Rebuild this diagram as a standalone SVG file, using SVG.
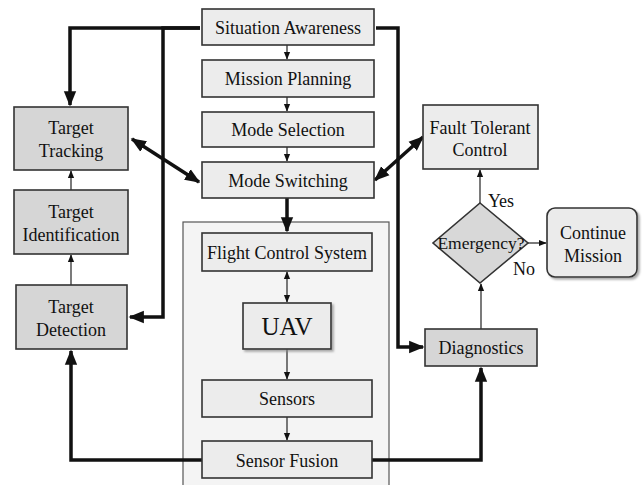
<svg xmlns="http://www.w3.org/2000/svg" width="642" height="485" viewBox="0 0 642 485">
<defs>
<marker id="ab" viewBox="0 0 10 10" refX="9" refY="5" markerWidth="4.4" markerHeight="4.4" orient="auto-start-reverse" markerUnits="strokeWidth"><path d="M0,1 L10,5 L0,9 z" fill="#111"/></marker>
<marker id="at" viewBox="0 0 10 10" refX="9" refY="5" markerWidth="6.5" markerHeight="6.5" orient="auto-start-reverse" markerUnits="strokeWidth"><path d="M0,1 L10,5 L0,9 z" fill="#111"/></marker>
<filter id="sh" x="-10%" y="-10%" width="130%" height="130%"><feDropShadow dx="2" dy="2" stdDeviation="1.2" flood-color="#888" flood-opacity="0.7"/></filter>
</defs>
<style>
.lt{fill:#ececec;stroke:#333;stroke-width:1.6}
.dk{fill:#d6d6d6;stroke:#333;stroke-width:1.6}
.bold{fill:none;stroke:#111;stroke-width:3.5;marker-end:url(#ab)}
.thin{fill:none;stroke:#222;stroke-width:1.2;marker-end:url(#at)}
.dbl{marker-start:url(#ab)}
</style>
<rect width="642" height="485" fill="#fff"/>
<g id="uav-container"><rect x="183" y="222" width="206" height="270" fill="#f4f4f4" stroke="#555" stroke-width="1.2"/></g>
<g id="connectors">
<path class="bold" d="M200,28 H70 V105"/>
<path class="bold" d="M200,28 H163 V317 H130"/>
<path class="bold" d="M376,28 H398 V347 H423"/>
<path class="bold" d="M202,460 H71 V351"/>
<path class="bold" d="M372,460 H481 V368"/>
<path class="bold" d="M287,198 V231"/>
<path class="bold dbl" d="M132,139 L199,182"/>
<path class="bold dbl" d="M375,180 L423,137"/>
<path class="thin" d="M287,45 V59"/>
<path class="thin" d="M287,97 V111"/>
<path class="thin" d="M287,147 V161"/>
<path class="thin" d="M287,272 V302" style="marker-start:url(#at)"/>
<path class="thin" d="M287,349 V379"/>
<path class="thin" d="M287,417 V440"/>
<path class="thin" d="M71,190 V171"/>
<path class="thin" d="M71,285 V255"/>
<path class="thin" d="M480,203 V170"/>
<path class="thin" d="M481,329 V284"/>
<path class="thin" d="M528,243 H546"/>
</g>
<g id="situation-awareness"><rect class="lt" x="202" y="9" width="172" height="36"/><text x="288" y="34" font-family="Liberation Serif" font-size="18" fill="#111" text-anchor="middle">Situation Awareness</text></g>
<g id="mission-planning"><rect class="lt" x="202" y="60" width="172" height="37"/><text x="288" y="85" font-family="Liberation Serif" font-size="18" fill="#111" text-anchor="middle">Mission Planning</text></g>
<g id="mode-selection"><rect class="lt" x="202" y="112" width="172" height="35"/><text x="288" y="136" font-family="Liberation Serif" font-size="18" fill="#111" text-anchor="middle">Mode Selection</text></g>
<g id="mode-switching"><rect class="lt" x="202" y="162" width="172" height="36"/><text x="288" y="187" font-family="Liberation Serif" font-size="18" fill="#111" text-anchor="middle">Mode Switching</text></g>
<g id="flight-control-system"><rect class="lt" x="202" y="233" width="170" height="38"/><text x="287" y="259" font-family="Liberation Serif" font-size="18" fill="#111" text-anchor="middle">Flight Control System</text></g>
<g id="uav"><rect class="lt" x="243" y="303" width="88" height="46" filter="url(#sh)"/><text x="287" y="335" font-family="Liberation Serif" font-size="25" fill="#111" text-anchor="middle">UAV</text></g>
<g id="sensors"><rect class="lt" x="202" y="380" width="170" height="37"/><text x="287" y="405" font-family="Liberation Serif" font-size="18" fill="#111" text-anchor="middle">Sensors</text></g>
<g id="sensor-fusion"><rect class="lt" x="202" y="441" width="170" height="37"/><text x="287" y="467" font-family="Liberation Serif" font-size="18" fill="#111" text-anchor="middle">Sensor Fusion</text></g>
<g id="target-tracking"><rect class="dk" x="14" y="107" width="114" height="63"/><text x="71" y="134" font-family="Liberation Serif" font-size="18" fill="#111" text-anchor="middle">Target</text><text x="71" y="157" font-family="Liberation Serif" font-size="18" fill="#111" text-anchor="middle">Tracking</text></g>
<g id="target-identification"><rect class="dk" x="14" y="190" width="114" height="64"/><text x="71" y="218" font-family="Liberation Serif" font-size="18" fill="#111" text-anchor="middle">Target</text><text x="71" y="241" font-family="Liberation Serif" font-size="18" fill="#111" text-anchor="middle">Identification</text></g>
<g id="target-detection"><rect class="dk" x="16" y="285" width="111" height="64"/><text x="71" y="313" font-family="Liberation Serif" font-size="18" fill="#111" text-anchor="middle">Target</text><text x="71" y="336" font-family="Liberation Serif" font-size="18" fill="#111" text-anchor="middle">Detection</text></g>
<g id="fault-tolerant-control"><rect class="lt" x="423" y="105" width="115" height="64"/><text x="480" y="134" font-family="Liberation Serif" font-size="18" fill="#111" text-anchor="middle">Fault Tolerant</text><text x="480" y="156" font-family="Liberation Serif" font-size="18" fill="#111" text-anchor="middle">Control</text></g>
<g id="emergency"><path d="M480,203 L528,243 L480,283 L433,243 Z" fill="#d8d8d8" stroke="#333" stroke-width="1.6"/><text x="481" y="249" font-family="Liberation Serif" font-size="17.5" fill="#111" text-anchor="middle">Emergency?</text></g>
<g id="continue-mission"><rect x="547" y="208" width="90" height="69" rx="8" fill="#ebebeb" stroke="#333" stroke-width="1.6" filter="url(#sh)"/><text x="593" y="239" font-family="Liberation Serif" font-size="18" fill="#111" text-anchor="middle">Continue</text><text x="593" y="262" font-family="Liberation Serif" font-size="18" fill="#111" text-anchor="middle">Mission</text></g>
<g id="diagnostics"><rect class="dk" x="425" y="329" width="112" height="37"/><text x="481" y="354" font-family="Liberation Serif" font-size="18" fill="#111" text-anchor="middle">Diagnostics</text></g>
<g id="labels"><text x="501" y="207" font-family="Liberation Serif" font-size="18" fill="#111" text-anchor="middle">Yes</text><text x="524" y="275" font-family="Liberation Serif" font-size="18" fill="#111" text-anchor="middle">No</text></g>
</svg>
